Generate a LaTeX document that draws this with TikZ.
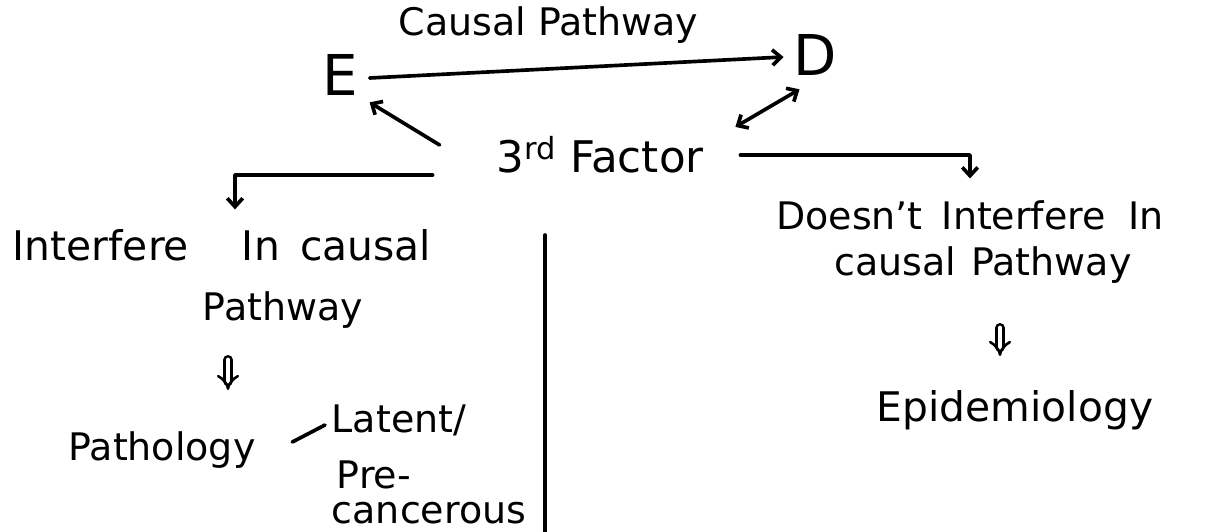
\documentclass[tikz,border=0pt]{standalone}
\usepackage{fontspec}
\setmainfont{DejaVu Sans}
\usetikzlibrary{arrows.meta,calc}
\begin{document}
\begin{tikzpicture}[x=0.025cm,y=-0.025cm, line width=2.6pt, line cap=round, line join=round,
  txt/.style={inner sep=0pt, font=\fontsize{27}{32}\selectfont},
  big/.style={inner sep=0pt, font=\fontsize{40}{46}\selectfont},
  arr/.style={-{Straight Barb[length=6pt,width=11pt]}},
  dbl/.style={{Straight Barb[length=6pt,width=11pt]}-{Straight Barb[length=6pt,width=11pt]}},
  imp/.style={line width=1.8pt, double, double distance=3.5pt, -{Implies}}]
\useasboundingbox (0,0) rectangle (1210,532);
% nodes
\node[big] (E) at (340,75) {E};
\node[big] (D) at (815,55) {D};
\node[txt, font=\fontsize{31}{36}\selectfont] (F) at (600,155) {3\textsuperscript{rd} Factor};
\node[txt, font=\fontsize{29}{34}\selectfont] (Lint) at (222,245) {Interfere\hspace{1.3em}In\hspace{0.5em}causal};
\node[txt] (Lpath) at (283,310) {Pathway};
\node[txt] (Patho) at (162,450) {Pathology};
\node[txt, anchor=west] (Lat1) at (330,420) {Latent/};
\node[txt, anchor=west] (Lat2) at (335,475) {Pre-};
\node[txt, anchor=west] (Lat3) at (330,513) {cancerous};
\node[txt] (Rint) at (970,215) {Doesn't\hspace{0.5em}Interfere\hspace{0.6em}In};
\node[txt] (Rpath) at (983,265) {causal\hspace{0.4em}Pathway};
\node[txt, font=\fontsize{29}{34}\selectfont] (Epi) at (1015,410) {Epidemiology};
% connectors
\draw[arr] ($(E.east)+(10,3)$) -- node[txt, above=16pt, xshift=-20] {Causal Pathway} ($(D.west)+(-8,2)$);
\draw[arr] ($(F.west)+(-55,-10)$) -- ($(E.south east)+(10,5)$);
\draw[dbl] ($(F.north east)+(30,-8)$) -- ($(D.south west)+(8,12)$);
\draw[arr] ($(F.south west)+(-62,0)$) -| ($(Lint.north)+(13,-18)$);
\draw[arr] ($(F.east)+(35,0)$) -| ($(Rint.north)+(0,-20)$);
\draw[imp] ($(Lpath.center)+(-55,50)$) -- ($(Patho.center)+(66,-60)$);
\draw[imp] ($(Rpath.center)+(17,63)$) -- ($(Epi.center)+(-15,-54)$);
\draw ($(Patho.east)+(35,-8)$) -- ($(Lat1.west)+(-5,5)$);
\draw (545,235) -- (545,532);
\end{tikzpicture}
\end{document}
